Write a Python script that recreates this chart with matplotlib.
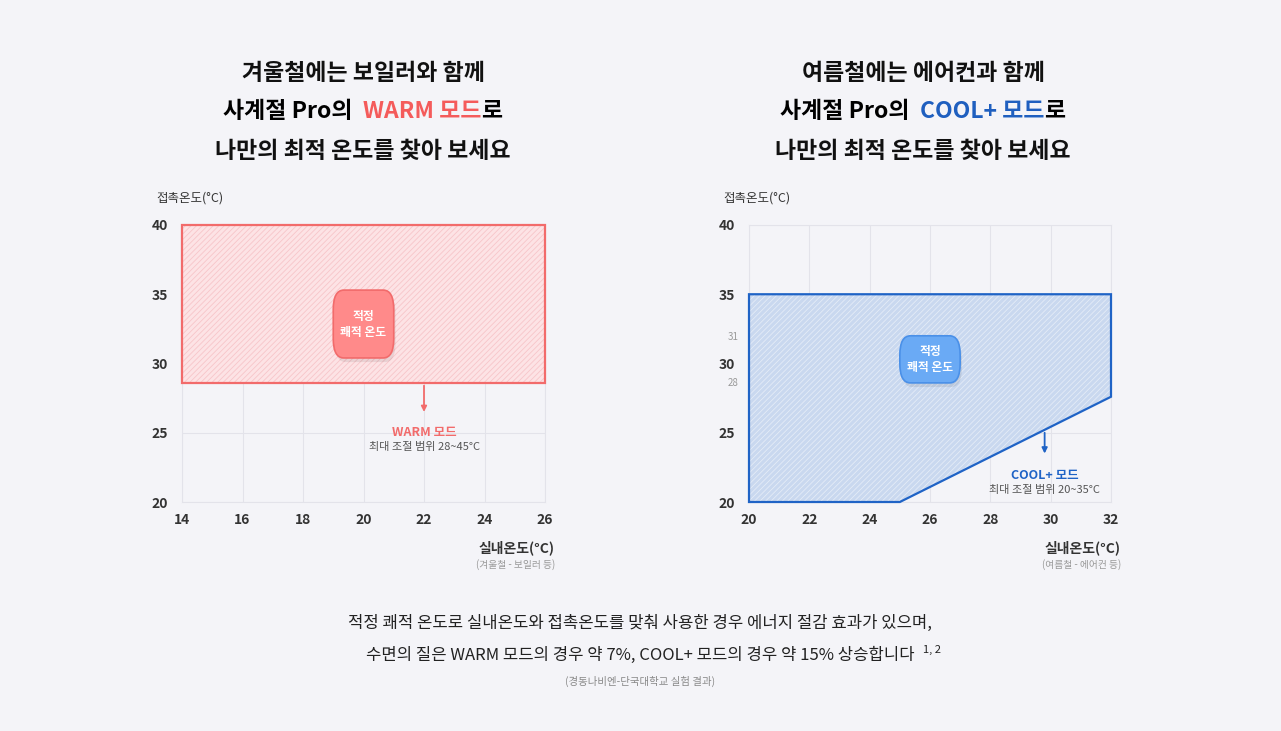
import matplotlib
matplotlib.use("Agg")
import matplotlib.pyplot as plt
from matplotlib.patches import FancyBboxPatch, Polygon

plt.rcParams['font.family'] = ['Noto Sans CJK KR', 'DejaVu Sans']
plt.rcParams['hatch.linewidth'] = 0.6

BG = '#f4f4f8'
W, H = 1281, 731

charts = {
    'warm': {
        'rect': (182, 225, 545, 502),
        'xlim': (14, 26), 'xticks': [14, 16, 18, 20, 22, 24, 26],
        'region': [(14, 40), (26, 40), (26, 28.6), (14, 28.6)],
        'edge': '#f26b6b', 'fill': '#fde3e5', 'hatch_col': '#f7c5c9',
        'box': (20.0, 32.85, 4.9), 'box_col': '#ff8a8a', 'box_edge': '#f26b6b',
        'arrow': (22, 28.6, 26.3),
        'mode': 'WARM 모드', 'range': '최대 조절 범위 28~45°C', 'mode_y': 25.0,
        'sub': '(겨울철 - 보일러 등)',
        'title1': '겨울철에는 보일러와 함께', 'title3': '나만의 최적 온도를 찾아 보세요',
        'parts': [('사계절 Pro의 ', 'k'), ('WARM 모드', '#f45b5b'), ('로', 'k')],
        'cx': 363,
    },
    'cool': {
        'rect': (749, 225, 1111, 502),
        'xlim': (20, 32), 'xticks': [20, 22, 24, 26, 28, 30, 32],
        'region': [(20, 35), (32, 35), (32, 27.6), (25, 20), (20, 20)],
        'edge': '#1f63c6', 'fill': '#c9d8ef', 'hatch_col': '#e4ecf7',
        'box': (26.0, 30.3, 3.4), 'box_col': '#6aaaf5', 'box_edge': '#4a90e8',
        'arrow': (29.8, 25.2, 23.3),
        'mode': 'COOL+ 모드', 'range': '최대 조절 범위 20~35°C', 'mode_y': 21.9,
        'sub': '(여름철 - 에어컨 등)',
        'title1': '여름철에는 에어컨과 함께', 'title3': '나만의 최적 온도를 찾아 보세요',
        'parts': [('사계절 Pro의 ', 'k'), ('COOL+ 모드', '#1f5fbf'), ('로', 'k')],
        'cx': 923,
    },
}

fig = plt.figure(figsize=(W / 100, H / 100), dpi=100)
fig.patch.set_facecolor(BG)
renderer = fig.canvas.get_renderer()


def fx(px):
    return px / W


def fy(py):
    return 1 - py / H


for key, c in charts.items():
    x0, y0, x1, y1 = c['rect']
    ax = fig.add_axes([fx(x0), fy(y1), fx(x1 - x0), (y1 - y0) / H])
    ax.set_facecolor(BG)
    ax.set_xlim(*c['xlim'])
    ax.set_ylim(20, 40)
    ax.set_xticks(c['xticks'])
    ax.set_yticks([20, 25, 30, 35, 40])
    ax.grid(color='#e3e3ea', lw=0.8)
    for s in ax.spines.values():
        s.set_color('#e3e3ea')
    ax.tick_params(length=0, labelsize=10, colors='#333333', pad=8)
    ax.tick_params(axis='y', pad=10)
    for lbl in ax.get_xticklabels() + ax.get_yticklabels():
        lbl.set_fontweight('bold')

    ax.add_patch(Polygon(c['region'], closed=True, facecolor=c['fill'],
                         edgecolor=c['hatch_col'], hatch='//////', lw=0, zorder=2))
    ax.add_patch(Polygon(c['region'], closed=True, facecolor='none',
                         edgecolor=c['edge'], lw=1.6, zorder=3, clip_on=False))

    bx, by, bh = c['box']
    bw = 2.0
    ax.add_patch(FancyBboxPatch((bx - bw / 2 + 0.06, by - bh / 2 - 0.3), bw, bh,
                                boxstyle='round,pad=0,rounding_size=0.35',
                                facecolor='#000000', alpha=0.08, lw=0, zorder=4,
                                mutation_aspect=4))
    ax.add_patch(FancyBboxPatch((bx - bw / 2, by - bh / 2), bw, bh,
                                boxstyle='round,pad=0,rounding_size=0.35',
                                facecolor=c['box_col'], edgecolor=c['box_edge'],
                                lw=1.2, zorder=5, mutation_aspect=4))
    ax.text(bx, by, '적정\n쾌적 온도', ha='center', va='center', color='white',
            fontsize=8.5, fontweight='bold', zorder=6, linespacing=1.3)

    axx, ay0, ay1 = c['arrow']
    ax.annotate('', xy=(axx, ay1), xytext=(axx, ay0),
                arrowprops=dict(arrowstyle='-|>', color=c['edge'], lw=1.3,
                                mutation_scale=8), zorder=6)
    ax.text(axx, c['mode_y'], c['mode'], ha='center', va='center', color=c['edge'],
            fontsize=9, fontweight='bold', zorder=6)
    ax.text(axx, c['mode_y'] - 1.0, c['range'], ha='center', va='center',
            color='#555555', fontsize=8, zorder=6)

    if key == 'cool':
        for v, py in ((31, 337), (28, 383)):
            fig.text(fx(733), fy(py), str(v), ha='center', va='center',
                     color='#999999', fontsize=7)

    fig.text(fx(x0 - 26), fy(198), '접촉온도(°C)', ha='left', va='center',
             fontsize=9, color='#333333')
    fig.text(fx(x1 + 10), fy(548), '실내온도(°C)', ha='right', va='center',
             fontsize=10, fontweight='bold', color='#333333')
    fig.text(fx(x1 + 10), fy(565), c['sub'], ha='right', va='center',
             fontsize=7, color='#999999')

    fig.text(fx(c['cx']), fy(73), c['title1'], ha='center', va='center',
             fontsize=16.5, fontweight='bold', color='#111111')
    fig.text(fx(c['cx']), fy(151), c['title3'], ha='center', va='center',
             fontsize=16.5, fontweight='bold', color='#111111')

    # colored middle line: lay pieces side by side, then center the group
    pieces = []
    for txt, col in c['parts']:
        t = fig.text(0, fy(111), txt, ha='left', va='center',
                     fontsize=16.5, fontweight='bold', color=col)
        pieces.append(t)
    widths = [p.get_window_extent(renderer).width for p in pieces]
    space = 5
    total = sum(widths) + space
    px = c['cx'] - total / 2
    for i, (p, w) in enumerate(zip(pieces, widths)):
        p.set_x(fx(px))
        px += w + (space if i == 0 else 0)

fig.text(0.5, fy(623), '적정 쾌적 온도로 실내온도와 접촉온도를 맞춰 사용한 경우 에너지 절감 효과가 있으며,',
         ha='center', va='center', fontsize=12, color='#222222')
line2 = fig.text(0.5, fy(655), '수면의 질은 WARM 모드의 경우 약 7%, COOL+ 모드의 경우 약 15% 상승합니다',
                 ha='center', va='center', fontsize=12, color='#222222')
ext = line2.get_window_extent(renderer)
fig.text((ext.x1 + 8) / W, fy(650), '1, 2', ha='left', va='center',
         fontsize=8, color='#222222')
fig.text(0.5, fy(681), '(경동나비엔-단국대학교 실험 결과)', ha='center', va='center',
         fontsize=7.5, color='#888888')

fig.savefig('out.png', dpi=100, facecolor=BG)
